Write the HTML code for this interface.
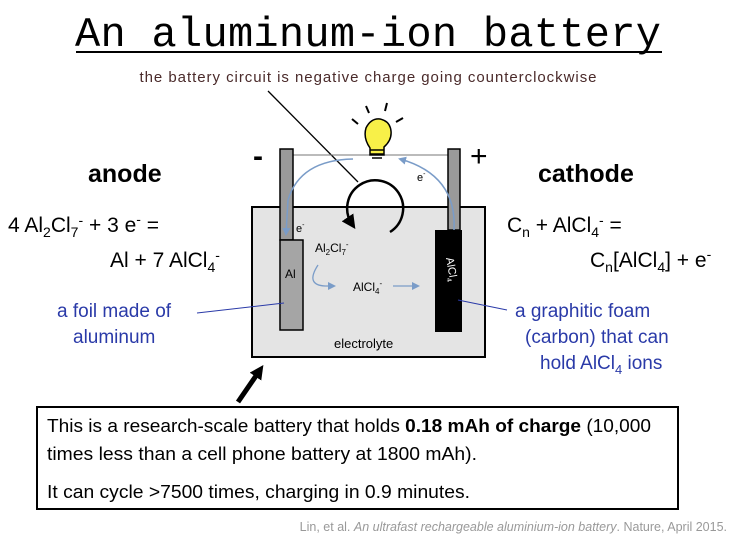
<!DOCTYPE html>
<html><head><meta charset="utf-8"><style>
body{margin:0;background:#fff}
svg text{font-family:"Liberation Sans",sans-serif}
</style></head><body>
<svg width="740" height="552" viewBox="0 0 740 552" xmlns="http://www.w3.org/2000/svg">
<defs>
<marker id="ab" markerWidth="8" markerHeight="8" refX="6" refY="4" orient="auto" markerUnits="userSpaceOnUse"><path d="M0,0 L8,4 L0,8 Z" fill="#7a9cc8"/></marker>
<marker id="ak" markerWidth="14" markerHeight="14" refX="8" refY="7" orient="auto" markerUnits="userSpaceOnUse"><path d="M0,0 L14,7 L0,14 Z" fill="#000"/></marker>
</defs>
<text x="368" y="46" text-anchor="middle" style="font-family:'Liberation Mono',monospace" font-size="42" textLength="586">An aluminum-ion battery</text>
<line x1="76" y1="52" x2="662" y2="52" stroke="#000" stroke-width="2"/>
<text x="368" y="82" text-anchor="middle" font-size="15" fill="#4a2a2a" textLength="457">the battery circuit is negative charge going counterclockwise</text>
<line x1="268" y1="91" x2="358" y2="182" stroke="#000" stroke-width="1.3"/>
<rect x="252" y="207" width="233" height="150" fill="#e4e4e4" stroke="#000" stroke-width="2"/>
<line x1="293" y1="155" x2="448" y2="155" stroke="#777" stroke-width="1"/>
<rect x="280" y="149" width="13" height="91" fill="#9a9a9a" stroke="#000" stroke-width="1.5"/>
<rect x="280" y="240" width="23" height="90" fill="#a5a5a5" stroke="#000" stroke-width="1.5"/>
<rect x="448" y="149" width="12" height="81" fill="#9a9a9a" stroke="#000" stroke-width="1.5"/>
<rect x="435" y="230" width="27" height="102" fill="#000"/>
<text x="446" y="258" font-size="11" fill="#fff" transform="rotate(80 446 258)">AlCl<tspan font-size="7" dy="3">4</tspan></text>
<path d="M370,155 L370,148 Q363,138 366,128 Q371,118 380,119 Q390,121 391,131 Q392,140 384,147 L384,155 Z" fill="#f8f048" stroke="#000" stroke-width="1.5"/>
<path d="M370,150 L384,150 M370,154 L384,154 M372,158 L382,158" stroke="#000" stroke-width="1.5"/>
<g stroke="#000" stroke-width="2">
<line x1="352" y1="119" x2="358" y2="124"/><line x1="366" y1="106" x2="369" y2="113"/><line x1="387" y1="103" x2="385" y2="111"/><line x1="403" y1="118" x2="396" y2="122"/>
</g>
<path d="M353,159 Q300,160 288,200 L286,234" fill="none" stroke="#7a9cc8" stroke-width="1.5" marker-end="url(#ab)"/>
<path d="M454,230 Q457,175 400,159" fill="none" stroke="#7a9cc8" stroke-width="1.5" marker-end="url(#ab)"/>
<path d="M318,265 Q305,285 325,286 L334,286" fill="none" stroke="#7a9cc8" stroke-width="1.3" marker-end="url(#ab)"/>
<line x1="393" y1="286" x2="418" y2="286" stroke="#7a9cc8" stroke-width="1.3" marker-end="url(#ab)"/>
<path d="M390,232 A28,28 0 1 0 352,224" fill="none" stroke="#000" stroke-width="2.5" marker-end="url(#ak)"/>
<text x="417" y="181" font-size="11">e<tspan font-size="7" dy="-5">-</tspan></text>
<text x="296" y="232" font-size="11">e<tspan font-size="7" dy="-5">-</tspan></text>
<text x="285" y="278" font-size="12">Al</text>
<text x="315" y="252" font-size="12">Al<tspan font-size="8" dy="3">2</tspan><tspan dy="-3">Cl</tspan><tspan font-size="8" dy="3">7</tspan><tspan font-size="8" dy="-8">-</tspan></text>
<text x="353" y="291" font-size="12">AlCl<tspan font-size="8" dy="3">4</tspan><tspan font-size="8" dy="-8">-</tspan></text>
<text x="334" y="348" font-size="13">electrolyte</text>
<text x="253" y="166" font-size="30" font-weight="bold">-</text>
<text x="470" y="166" font-size="30">+</text>
<text x="88" y="182" font-size="25" font-weight="bold">anode</text>
<text x="538" y="182" font-size="25" font-weight="bold">cathode</text>
<text x="8" y="232" font-size="21">4 Al<tspan font-size="14" dy="5">2</tspan><tspan dy="-5">Cl</tspan><tspan font-size="14" dy="5">7</tspan><tspan font-size="14" dy="-12">-</tspan><tspan dy="7"> + 3 e</tspan><tspan font-size="14" dy="-8">-</tspan><tspan dy="8"> =</tspan></text>
<text x="110" y="267" font-size="21">Al + 7 AlCl<tspan font-size="14" dy="5">4</tspan><tspan font-size="14" dy="-12">-</tspan></text>
<text x="507" y="232" font-size="21">C<tspan font-size="14" dy="5">n</tspan><tspan dy="-5"> + AlCl</tspan><tspan font-size="14" dy="5">4</tspan><tspan font-size="14" dy="-12">-</tspan><tspan dy="7"> =</tspan></text>
<text x="590" y="267" font-size="21">C<tspan font-size="14" dy="5">n</tspan><tspan dy="-5">[AlCl</tspan><tspan font-size="14" dy="5">4</tspan><tspan dy="-5">] + e</tspan><tspan font-size="14" dy="-8">-</tspan></text>
<g fill="#2a3aa8" font-size="19">
<text x="57" y="317">a foil made of</text>
<text x="73" y="343">aluminum</text>
<text x="515" y="317">a graphitic foam</text>
<text x="525" y="343">(carbon) that can</text>
<text x="540" y="369">hold AlCl<tspan font-size="13" dy="5">4</tspan><tspan dy="-5"> ions</tspan></text>
</g>
<line x1="197" y1="313" x2="284" y2="303" stroke="#2a3aa8" stroke-width="1"/>
<line x1="458" y1="300" x2="507" y2="310" stroke="#2a3aa8" stroke-width="1"/>
<line x1="238" y1="402" x2="260" y2="370" stroke="#000" stroke-width="5" marker-end="url(#ak)"/>
<rect x="37" y="407" width="641" height="102" fill="#fff" stroke="#000" stroke-width="2"/>
<text x="47" y="432" font-size="18" textLength="604" lengthAdjust="spacingAndGlyphs">This is a research-scale battery that holds <tspan font-weight="bold">0.18 mAh of charge</tspan> (10,000</text>
<text x="47" y="460" font-size="18" textLength="430" lengthAdjust="spacingAndGlyphs">times less than a cell phone battery at 1800 mAh).</text>
<text x="47" y="498" font-size="18" textLength="423" lengthAdjust="spacingAndGlyphs">It can cycle &gt;7500 times, charging in 0.9 minutes.</text>
<text x="727" y="531" font-size="12.5" fill="#999" text-anchor="end">Lin, et al. <tspan font-style="italic">An ultrafast rechargeable aluminium-ion battery</tspan>. Nature, April 2015.</text>
</svg>
</body></html>
